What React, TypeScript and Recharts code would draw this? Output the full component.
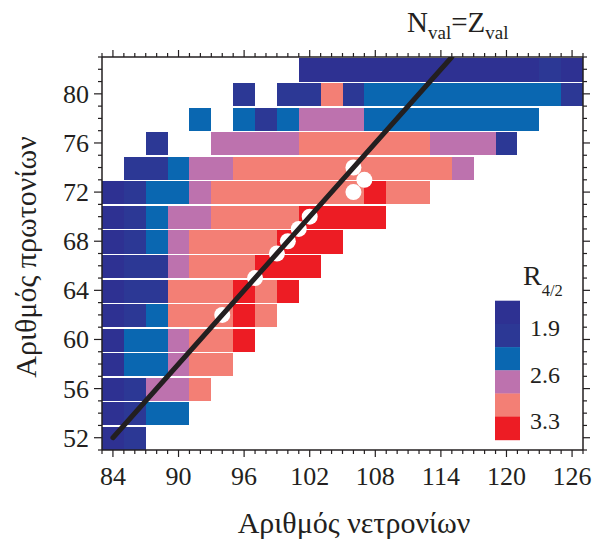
import React from 'react';
import { ComposedChart, XAxis, YAxis, Scatter, ReferenceArea } from 'recharts';

// --- DATA ---
const NEUTRONS = [84, 86, 88, 90, 92, 94, 96, 98, 100, 102, 104, 106, 108, 110, 112, 114, 116, 118, 120, 122, 124, 126];
const PROTON_ROWS = [52, 54, 56, 58, 60, 62, 64, 66, 68, 70, 72, 74, 76, 78, 80, 82];
// one letter per neutron column (84, 86, ...), '.' = no measurement
const ROW_CLASSES = [
    'ab',
    'abcc',
    'abdde',
    'accdee',
    'accdeef',
    'abceeefe',
    'abbeeefef',
    'abbdeeefff',
    'abcdeeeefff',
    'abcddeeeeffff',
    'abccdeeeeeeefee',
    '.bbcddeeeeeeeeeed',
    '..b..ddddeeeeeedddb',
    '....c.cbcdddcccccccc',
    '......b.bbebcccccccccb',
    '.........aaaaaaaaaaaba',
];
const CLASS_R42: Record<string, number> = { a: 1.75, b: 2.05, c: 2.4, d: 2.8, e: 3.1, f: 3.45 };

const LEGEND_EDGES = [1.55, 1.9, 2.25, 2.6, 2.95, 3.3, 3.65];
const LEGEND_COLORS = ['#2E3192', '#2C3895', '#0A67B1', '#BD72AE', '#F37F75', '#ED1C24'];
const LEGEND_LABELS = ['1.9', '2.6', '3.3'];

// nuclei marked with white circles
const MARKED_N = [94, 97, 99, 100, 101, 102, 106, 107, 106];
const MARKED_Z = [62, 65, 67, 68, 69, 70, 74, 73, 72];

// N_val = Z_val line
const LINE_N = [84, 115];
const LINE_Z = [52, 83];

const X_TICKS = Array.from({ length: 45 }, (_, i) => 83 + i);
const Y_TICKS = Array.from({ length: 33 }, (_, i) => 51 + i);

const INK = '#231F20';
const FONT = '"Liberation Serif", "Times New Roman", serif';

const colorFor = (r: number) => {
    for (let i = 0; i < LEGEND_COLORS.length; i++) {
        if (r < LEGEND_EDGES[i + 1]) return LEGEND_COLORS[i];
    }
    return LEGEND_COLORS[LEGEND_COLORS.length - 1];
};

// merge neighbouring cells of the same class in a row, so no seams show
const runs: { n1: number; n2: number; z: number; r: number }[] = [];
ROW_CLASSES.forEach((row, ri) => {
    const chars = row.split('');
    let i = 0;
    while (i < chars.length) {
        const c = chars[i];
        if (c === '.') { i++; continue; }
        let j = i;
        while (j + 1 < chars.length && chars[j + 1] === c) j++;
        runs.push({ n1: NEUTRONS[i], n2: NEUTRONS[j], z: PROTON_ROWS[ri], r: CLASS_R42[c] });
        i = j + 1;
    }
});

const marked = MARKED_N.map((n, i) => ({ x: n, y: MARKED_Z[i] }));
const valLine = LINE_N.map((n, i) => ({ x: n, y: LINE_Z[i] }));

// --- TICKS ---
const BottomTick = (props: any) => {
    const { x, y, payload } = props;
    const v = payload.value;
    const major = (v - 84) % 6 === 0;
    return (
        <g>
            <line x1={x} x2={x} y1={y} y2={y + (major ? 7 : 4)} stroke={INK} strokeWidth={1.2} />
            {major && (
                <text x={x} y={y + 35} textAnchor="middle" fontSize={26} fontFamily={FONT} fill={INK}>{v}</text>
            )}
        </g>
    );
};

const TopTick = (props: any) => {
    const { x, y, payload } = props;
    const major = (payload.value - 84) % 6 === 0;
    return <line x1={x} x2={x} y1={y} y2={y - (major ? 7 : 4)} stroke={INK} strokeWidth={1.2} />;
};

const LeftTick = (props: any) => {
    const { x, y, payload } = props;
    const v = payload.value;
    const major = (v - 52) % 4 === 0;
    return (
        <g>
            <line x1={x} x2={x - (major ? 8 : 4)} y1={y} y2={y} stroke={INK} strokeWidth={1.2} />
            {major && (
                <text x={x - 13} y={y + 9} textAnchor="end" fontSize={26} fontFamily={FONT} fill={INK}>{v}</text>
            )}
        </g>
    );
};

const RightTick = (props: any) => {
    const { x, y, payload } = props;
    const major = (payload.value - 52) % 4 === 0;
    return <line x1={x} x2={x + (major ? 7 : 4)} y1={y} y2={y} stroke={INK} strokeWidth={1.2} />;
};

const Dot = (props: any) => <circle cx={props.cx} cy={props.cy} r={8} fill="#fff" />;
const NoDot = () => <g />;

export default function App() {
    const barX = 495;
    const barTop = 300.7;
    const blockH = 23.2;
    return (
        <div style={{ position: 'absolute', left: 0, top: 0, width: 595, height: 539, background: '#fff' }}>
            <ComposedChart width={595} height={539} margin={{ top: 0, right: 0, bottom: 0, left: 0 }}>
                <XAxis xAxisId="b" dataKey="x" type="number" domain={[83, 127]} allowDataOverflow ticks={X_TICKS}
                    interval={0} tickSize={0} tickMargin={0} height={89} tick={BottomTick}
                    axisLine={{ stroke: INK, strokeWidth: 1.5 }} tickLine={false} />
                <XAxis xAxisId="t" orientation="top" dataKey="x" type="number" domain={[83, 127]} allowDataOverflow ticks={X_TICKS}
                    interval={0} tickSize={0} tickMargin={0} height={57} tick={TopTick}
                    axisLine={{ stroke: INK, strokeWidth: 1.5 }} tickLine={false} />
                <YAxis yAxisId="l" dataKey="y" type="number" domain={[51, 83]} allowDataOverflow ticks={Y_TICKS}
                    interval={0} tickSize={0} tickMargin={0} width={102} tick={LeftTick}
                    axisLine={{ stroke: INK, strokeWidth: 1.5 }} tickLine={false} />
                <YAxis yAxisId="r" orientation="right" dataKey="y" type="number" domain={[51, 83]} allowDataOverflow ticks={Y_TICKS}
                    interval={0} tickSize={0} tickMargin={0} width={12} tick={RightTick}
                    axisLine={{ stroke: INK, strokeWidth: 1.5 }} tickLine={false} />

                {runs.map((c, i) => (
                    <ReferenceArea key={`cell-${i}`} xAxisId="b" yAxisId="l"
                        x1={c.n1 - 1} x2={c.n2 + 1} y1={c.z - 1} y2={c.z + 0.88}
                        fill={colorFor(c.r)} fillOpacity={1} stroke="none" shapeRendering="crispEdges" />
                ))}

                <Scatter xAxisId="t" yAxisId="r" data={marked} shape={NoDot} isAnimationActive={false} />
                <Scatter xAxisId="b" yAxisId="l" data={marked} shape={Dot} isAnimationActive={false} />
                <Scatter xAxisId="b" yAxisId="l" data={valLine} shape={NoDot} isAnimationActive={false}
                    line={{ stroke: INK, strokeWidth: 5, strokeLinecap: 'round' }} />
            </ComposedChart>

            <svg width={595} height={539} style={{ position: 'absolute', left: 0, top: 0, pointerEvents: 'none' }}>
                <text x={354} y={533} textAnchor="middle" fontSize={30} fontFamily={FONT} fill={INK}>Αριθμός νετρονίων</text>
                <text transform="translate(36, 257) rotate(-90)" textAnchor="middle" fontSize={30} fontFamily={FONT} fill={INK}>Αριθμός πρωτονίων</text>

                <text x={407} y={32} fontSize={29} fontFamily={FONT} fill={INK}>
                    N<tspan fontSize={19} dy={7}>val</tspan><tspan dy={-7}>=Z</tspan><tspan fontSize={19} dy={7}>val</tspan>
                </text>

                <text x={523} y={285} fontSize={28} fontFamily={FONT} fill={INK}>
                    R<tspan fontSize={16.5} dy={11}>4/2</tspan>
                </text>
                {LEGEND_COLORS.map((c, i) => (
                    <rect key={c} x={barX} y={barTop + i * blockH} width={25} height={blockH + 0.3} fill={c} />
                ))}
                {LEGEND_LABELS.map((l, i) => (
                    <text key={l} x={530} y={336 + i * 46.5} fontSize={24} fontFamily={FONT} fill={INK}>{l}</text>
                ))}
            </svg>
        </div>
    );
}
